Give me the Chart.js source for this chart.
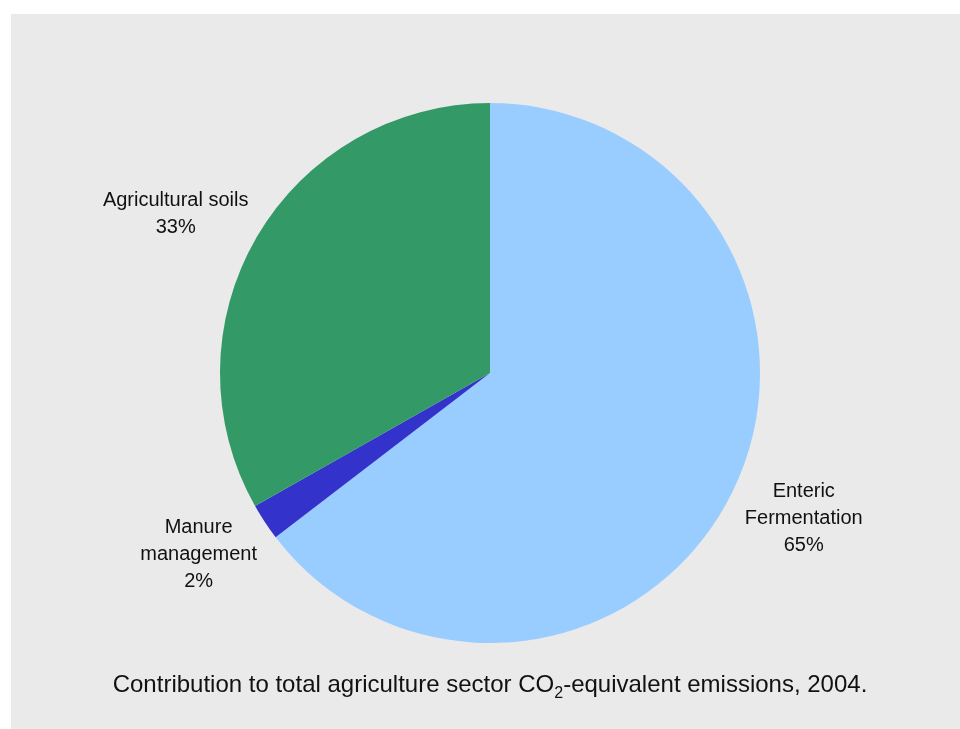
<!DOCTYPE html>
<html>
<head>
<meta charset="utf-8">
<script src="https://cdn.jsdelivr.net/npm/chart.js@4/dist/chart.umd.min.js"></script>
<style>
    html, body { margin: 0; padding: 0; background: #ffffff; }
    #panel {
        position: absolute; left: 11px; top: 14px;
        width: 949px; height: 715px;
        background: #eaeaea;
    }
    #pieChart { position: absolute; left: 0; top: 0; }
    #caption {
        position: absolute; left: 0; top: 656px; width: 958px;
        text-align: center;
        font-family: "Liberation Sans", Arial, sans-serif;
        font-size: 24px; color: #111;
    }
    #caption sub { font-size: 16px; vertical-align: -6px; line-height: 0; }
</style>
</head>
<body>
<div id="panel">
    <canvas id="pieChart" width="949" height="715"></canvas>
    <div id="caption">Contribution to total agriculture sector CO<sub>2</sub>-equivalent emissions, 2004.</div>
</div>
<script>
// data (clockwise from 12 o'clock)
const categories = ["Enteric\nFermentation", "Manure\nmanagement", "Agricultural soils"];
const shares = [64.6, 2.2, 33.2];
const sliceColors = ["#99ccff", "#3333cc", "#339966"];

// labels outside each slice: the text box touches a point a bit beyond the rim
const outsideLabels = {
    id: "outsideLabels",
    afterDatasetsDraw(chart) {
        const ctx = chart.ctx;
        const meta = chart.getDatasetMeta(0);
        const total = shares.reduce((a, b) => a + b, 0);
        const lh = 27;
        ctx.save();
        ctx.font = "20px 'Liberation Sans', Arial, sans-serif";
        ctx.fillStyle = "#111";
        ctx.textAlign = "center";
        ctx.textBaseline = "middle";
        meta.data.forEach((arc, i) => {
            const lines = categories[i].split("\n");
            lines.push(Math.round(shares[i] / total * 100) + "%");
            const w = Math.max(...lines.map(t => ctx.measureText(t).width));
            const h = (lines.length - 1) * lh + 22;
            const mid = (arc.startAngle + arc.endAngle) / 2;
            const ux = Math.cos(mid), uy = Math.sin(mid);
            const r = arc.outerRadius + 21;
            const cx = arc.x + ux * r + ux * w / 2;
            const cy = arc.y + uy * r + uy * h / 2;
            const y0 = cy - (lines.length - 1) * lh / 2;
            lines.forEach((t, k) => ctx.fillText(t, cx, y0 + k * lh));
        });
        ctx.restore();
    }
};

const ctx = document.getElementById("pieChart").getContext("2d");
new Chart(ctx, {
    type: "pie",
    data: {
        labels: categories,
        datasets: [{
            data: shares,
            backgroundColor: sliceColors,
            borderWidth: 0
        }]
    },
    options: {
        responsive: false,
        animation: false,
        layout: { padding: { left: 209, right: 200, top: 89, bottom: 86 } },
        plugins: {
            legend: { display: false },
            tooltip: { enabled: false }
        }
    },
    plugins: [outsideLabels]
});
</script>
</body>
</html>
